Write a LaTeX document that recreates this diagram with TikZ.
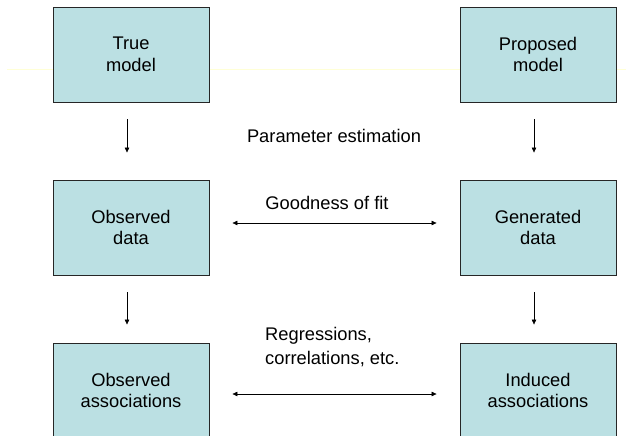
\documentclass[tikz,border=0pt]{standalone}
\usepackage{fontspec}
\setmainfont{Liberation Sans}
\usetikzlibrary{arrows.meta}
\definecolor{boxfill}{HTML}{BBE0E3}
\definecolor{faintline}{HTML}{FFFFD6}
\tikzset{
  modelbox/.style={draw=black!85, line width=0.9bp, fill=boxfill,
    minimum width=156bp, minimum height=95bp, inner sep=0pt,
    align=center, font=\fontsize{18.3bp}{21.5bp}\selectfont},
  arr/.style={-{Triangle[length=5bp,width=4.5bp]}, line width=0.6bp, black},
  dblarr/.style={{Triangle[length=5bp,width=4.5bp]}-{Triangle[length=5bp,width=4.5bp]}, line width=0.6bp, black},
  lbl/.style={font=\fontsize{18.3bp}{24bp}\selectfont, inner sep=0pt}
}
\begin{document}
\begin{tikzpicture}[x=1bp,y=-1bp]
\useasboundingbox (0,0) rectangle (626,436);
\clip (0,0) rectangle (626,436);
\draw[faintline, line width=1.2bp] (7,69.5) -- (626,69.5);

\node[modelbox] (tl) at (131,54.5) {True\\model};
\node[modelbox] (tr) at (538,54.5) {Proposed\\model};
\node[modelbox] (ml) at (131,227.5) {Observed\\data};
\node[modelbox] (mr) at (538,227.5) {Generated\\data};
\node[modelbox] (bl) at (131,390.5) {Observed\\associations};
\node[modelbox] (br) at (538,390.5) {Induced\\associations};

\draw[arr, shorten <=17bp, shorten >=27bp] ([xshift=-4bp]tl.south) -- ([xshift=-4bp]ml.north);
\draw[arr, shorten <=17bp, shorten >=27bp] ([xshift=-4bp]tr.south) -- ([xshift=-4bp]mr.north);
\draw[arr, shorten <=17bp, shorten >=18bp] ([xshift=-4bp]ml.south) -- ([xshift=-4bp]bl.north);
\draw[arr, shorten <=17bp, shorten >=18bp] ([xshift=-4bp]mr.south) -- ([xshift=-4bp]br.north);

\draw[dblarr, shorten <=23bp, shorten >=23bp] ([yshift=4.5bp]ml.east) -- ([yshift=4.5bp]mr.west);
\draw[dblarr, shorten <=23bp, shorten >=23bp] ([yshift=-3.5bp]bl.east) -- ([yshift=-3.5bp]br.west);

\node[lbl] (pe) at (334,136) {Parameter estimation};
\node[lbl] (gf) at (327,203) {Goodness of fit};
\node[lbl, align=left, anchor=west] (rc) at (265,347.5) {Regressions,\\correlations, etc.};
\end{tikzpicture}
\end{document}
